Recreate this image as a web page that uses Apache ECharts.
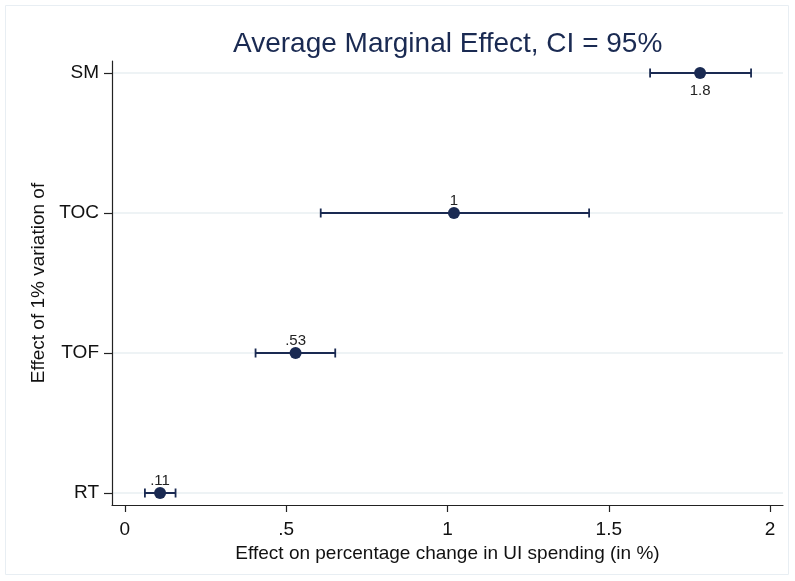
<!DOCTYPE html>
<html><head><meta charset="utf-8">
<script src="https://cdn.jsdelivr.net/npm/echarts@6/dist/echarts.min.js"></script>
<style>html,body{margin:0;padding:0;background:#fff}#c{width:795px;height:581px}</style>
</head><body><div id="c"></div>
<script>
const categories = ['RT', 'TOF', 'TOC', 'SM'];
const effects = [0.109, 0.529, 1.020, 1.783];
const ciLow = [0.062, 0.405, 0.607, 1.628];
const ciHigh = [0.157, 0.652, 1.439, 1.941];
const labelPos = ['top', 'top', 'top', 'bottom'];
const xTicks = [0, 0.5, 1, 1.5, 2];
const xTickLabels = ['0', '.5', '1', '1.5', '2'];
const yTicks = [0, 1, 2, 3];

const navy = '#1a2a52';
const FONT = 'Liberation Sans, Arial, sans-serif';
const fmt = v => { let s = String(Number(v.toPrecision(2))); return s.replace(/^0\./, '.'); };

const chart = echarts.init(document.getElementById('c'), null, {renderer: 'canvas'});
chart.setOption({
  animation: false,
  backgroundColor: '#fff',
  textStyle: {fontFamily: FONT},
  graphic: [{type: 'rect', shape: {x: 5.5, y: 5.5, width: 783, height: 569}, style: {fill: 'none', stroke: '#e8eef3', lineWidth: 1}, silent: true, z: -10}],
  title: {
    text: 'Average Marginal Effect, CI = 95%', left: 233, top: 30, padding: 0,
    textStyle: {fontSize: 28, fontWeight: 'normal', color: navy, fontFamily: FONT}
  },
  grid: {left: 112, right: 12, top: 61, bottom: 76},
  xAxis: {
    type: 'value', min: -0.04, max: 2.04,
    name: 'Effect on percentage change in UI spending (in %)', nameLocation: 'middle', nameGap: 32,
    nameTextStyle: {fontSize: 19, color: '#111', fontFamily: FONT},
    axisLine: {show: true, onZero: false, lineStyle: {color: '#222', width: 1.2}},
    axisTick: {show: true, length: 7, lineStyle: {color: '#222', width: 1.2}, customValues: xTicks},
    axisLabel: {fontSize: 19, color: '#111', margin: 15, customValues: xTicks, fontFamily: FONT,
      formatter: v => { const i = xTicks.findIndex(t => Math.abs(t - v) < 1e-9); return i >= 0 ? xTickLabels[i] : ''; }},
    splitLine: {show: false}
  },
  yAxis: {
    type: 'value', min: -12/140, max: 3 + 12/140,
    name: 'Effect of 1% variation of', nameLocation: 'middle', nameGap: 58, nameRotate: 90,
    nameTextStyle: {fontSize: 19, color: '#111', fontFamily: FONT},
    axisLine: {show: true, onZero: false, lineStyle: {color: '#222', width: 1.2}},
    axisTick: {show: true, length: 8, lineStyle: {color: '#222', width: 1.2}, customValues: yTicks},
    axisLabel: {fontSize: 19, color: '#111', margin: 13, customValues: yTicks, fontFamily: FONT,
      formatter: v => { const i = Math.round(v); return Math.abs(v - i) < 1e-9 && categories[i] ? categories[i] : ''; }},
    splitLine: {show: false}
  },
  series: [
    {
      type: 'line', data: [], silent: true, z: 0,
      markLine: {
        silent: true, symbol: 'none', label: {show: false}, z: 0,
        lineStyle: {color: '#e8eff2', type: 'solid', width: 1.5},
        data: yTicks.map(t => ({yAxis: t}))
      }
    },
    {
      type: 'custom',
      data: categories.map((c, i) => [i, ciLow[i], ciHigh[i]]),
      encode: {x: [1, 2], y: 0},
      renderItem: (params, api) => {
        const y = api.value(0);
        const p1 = api.coord([api.value(1), y]);
        const p2 = api.coord([api.value(2), y]);
        const h = 4.5;
        const st = {stroke: navy, lineWidth: 2, fill: 'none'};
        const sc = {stroke: navy, lineWidth: 1.8, fill: 'none'};
        return {type: 'group', children: [
          {type: 'line', shape: {x1: p1[0], y1: p1[1], x2: p2[0], y2: p2[1]}, style: st},
          {type: 'line', shape: {x1: p1[0], y1: p1[1] - h, x2: p1[0], y2: p1[1] + h}, style: sc},
          {type: 'line', shape: {x1: p2[0], y1: p2[1] - h, x2: p2[0], y2: p2[1] + h}, style: sc}
        ]};
      },
      z: 2
    },
    {
      type: 'scatter',
      symbol: 'circle', symbolSize: 12,
      itemStyle: {color: navy, opacity: 1},
      data: categories.map((c, i) => ({
        value: [effects[i], i],
        label: {show: true, position: labelPos[i], distance: labelPos[i] === 'bottom' ? 4 : -1,
          formatter: () => fmt(effects[i]), fontSize: 15, color: '#222', fontFamily: FONT}
      })),
      z: 3
    }
  ]
});
</script></body></html>
